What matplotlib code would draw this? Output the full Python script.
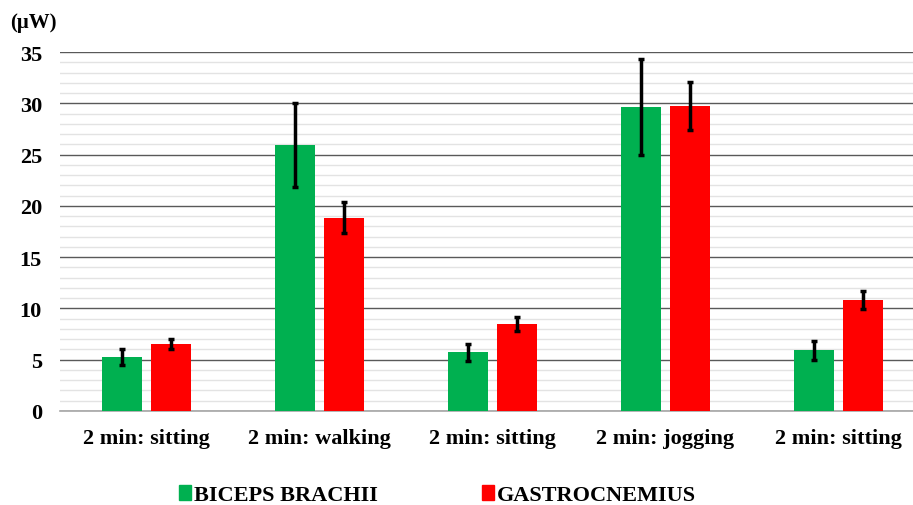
import numpy as np
import matplotlib.pyplot as plt
from matplotlib.patches import Patch

# =============================================================================
# DADOS
# =============================================================================

categorias = ["2 min: sitting", "2 min: walking", "2 min: sitting",
              "2 min: jogging", "2 min: sitting"]

biceps = [5.25, 25.95, 5.7, 29.65, 5.9]
biceps_err = [0.8, 4.1, 0.8, 4.7, 0.9]

gastro = [6.55, 18.85, 8.5, 29.75, 10.8]
gastro_err = [0.5, 1.5, 0.7, 2.35, 0.9]

VERDE = "#00B050"
VERMELHO = "#FF0000"

# =============================================================================
# FIGURA
# =============================================================================

plt.rcParams["font.family"] = "Liberation Serif"
plt.rcParams["font.weight"] = "bold"

fig = plt.figure(figsize=(9.13, 5.06), dpi=100)
ax = fig.add_axes([0.0657, 0.186, 0.947, 0.709])

x = np.arange(len(categorias))
largura = 0.231
desloc = 0.1416

err_kw = dict(ecolor="black", elinewidth=2.5, capsize=2.5, capthick=2.5)

ax.bar(x - desloc, biceps, largura, color=VERDE, yerr=biceps_err,
       error_kw=err_kw, zorder=3)
ax.bar(x + desloc, gastro, largura, color=VERMELHO, yerr=gastro_err,
       error_kw=err_kw, zorder=3)

ax.set_xlim(-0.5, len(categorias) - 0.5)
ax.set_ylim(0, 35)

ax.set_yticks(np.arange(0, 36, 5))
ax.set_yticks(np.arange(0, 36, 1), minor=True)
ax.grid(axis="y", which="major", color="#595959", linewidth=1.0, zorder=0)
ax.grid(axis="y", which="minor", color="#e3e3e3", linewidth=1.0, zorder=0)
ax.tick_params(axis="y", which="both", length=0, labelsize=16, pad=13)
ax.tick_params(axis="x", length=0, labelsize=16, pad=12)

ax.set_xticks(x)
ax.set_xticklabels(categorias, fontweight="bold")
for t in ax.get_yticklabels():
    t.set_fontweight("bold")

for lado in ["left", "right", "top"]:
    ax.spines[lado].set_visible(False)
ax.spines["bottom"].set_color("#a6a6a6")
ax.spines["bottom"].set_linewidth(1.2)

fig.text(0.011, 0.955, "(\u03bcW)", fontsize=15, fontweight="bold",
         va="center", ha="left")

handles = [Patch(color=VERDE, label="BICEPS BRACHII"),
           Patch(color=VERMELHO, label="GASTROCNEMIUS")]
fig.legend(handles=handles, loc="center", bbox_to_anchor=(0.479, 0.019),
           ncol=2, frameon=False, columnspacing=4.7,
           handlelength=0.55, handleheight=0.6, handletextpad=0.12,
           borderpad=0.1, prop={"weight": "bold", "size": 16})

fig.savefig("out.png", dpi=100)
